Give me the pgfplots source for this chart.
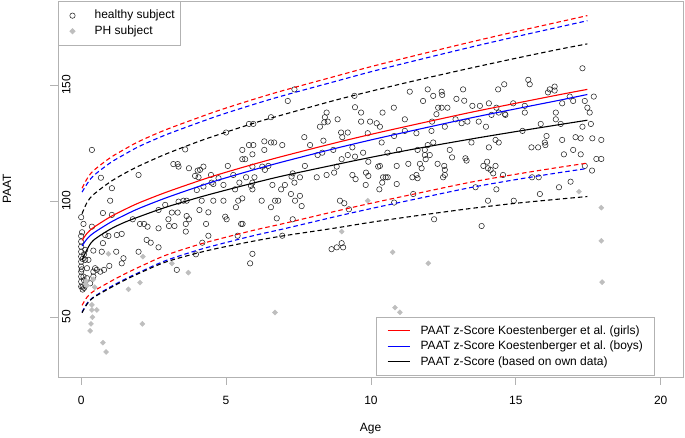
\documentclass[border=0pt]{standalone}
\usepackage{fontspec}
\setmainfont{Liberation Sans}
\usepackage{pgfplots}
\usepackage{pgfplotstable}
\pgfplotsset{compat=1.18}
\definecolor{framegray}{gray}{0.70}
\definecolor{phgray}{RGB}{190,190,190}

\pgfplotstableread{
x rs bs ks ru bu ku rl bl kl
0.03 83.0 80.6 74.5 105.5 103.8 94.5 55.0 52.0 51.8
0.2 86.0 83.6 79.0 109.5 107.3 99.3 58.5 55.8 55.5
0.42 88.5 86.1 83.0 113.0 110.8 102.7 61.0 58.5 58.3
1 93.1 90.7 87.8 118.6 116.4 108.2 65.2 62.9 62.5
1.5 96.3 93.9 90.8 122.3 120.1 111.9 68.5 66.2 65.8
2 99.2 96.8 93.2 125.7 123.5 115.1 71.5 69.2 68.8
2.9 103.6 101.2 97.2 130.6 128.4 120.1 76.5 74.2 73.6
4 108.4 106.0 101.3 135.7 133.5 125.4 81.0 78.7 77.5
4.79 111.6 109.2 104.0 139.2 137.0 128.8 83.7 81.4 79.8
6 116.0 113.6 107.9 144.0 141.8 133.7 87.5 85.2 82.8
7 119.4 117.0 110.9 147.7 145.5 137.3 90.3 88.0 85.0
8.76 125.0 122.6 115.6 153.7 151.5 143.4 95.5 93.2 88.3
10 128.7 126.3 118.8 157.9 155.7 147.3 99.0 96.7 90.8
11.5 132.9 130.5 122.4 162.6 160.4 151.8 103.0 100.7 93.5
13.41 138.1 135.7 126.6 168.4 166.2 157.2 108.0 105.7 96.7
15 142.1 139.7 129.9 173.0 170.8 161.5 111.5 109.2 99.0
16.5 145.8 143.4 132.9 177.2 175.0 165.4 114.5 112.2 100.8
17.47 148.1 145.9 134.8 179.9 177.7 167.7 116.3 114.0 101.9
}\curves

\pgfplotstableread{
x y
0.37 122.0
0.68 110.0
1.98 111.2
1.06 105.5
1.00 100.1
0.00 93.0
0.08 90.1
0.75 94.8
1.06 94.0
0.37 88.9
1.78 92.1
2.03 90.1
2.17 90.1
2.29 88.9
2.67 88.2
0.83 85.3
0.94 84.9
1.23 85.3
1.40 85.8
0.00 84.9
2.26 83.2
2.40 82.0
2.67 80.0
0.00 82.5
0.00 80.3
0.00 78.1
0.00 76.0
0.00 73.8
0.00 71.7
0.00 69.5
0.00 67.4
0.00 65.2
0.00 63.1
0.14 78.9
0.14 74.6
0.42 78.6
0.75 81.8
0.71 78.1
1.21 78.1
1.46 75.3
1.40 73.1
1.98 78.1
0.97 72.0
0.20 71.0
0.42 69.5
0.54 70.3
0.66 69.5
0.79 70.3
0.08 67.4
0.20 66.7
0.42 67.4
0.31 64.5
0.05 63.0
2.67 96.1
0.05 61.8
0.10 62.5
0.02 70.5
0.05 75.0
0.10 77.0
0.10 65.8
0.15 63.6
0.03 86.5
0.25 74.6
0.48 71.0
7.36 148.1
7.13 143.1
8.47 138.1
8.41 136.1
8.39 133.9
8.24 132.0
6.55 136.1
5.79 133.2
5.94 133.2
5.00 129.5
3.59 122.2
7.70 127.5
6.32 125.7
6.55 125.2
6.66 125.2
6.94 124.1
5.79 124.1
5.94 124.1
5.56 122.0
6.32 122.0
5.91 120.1
5.56 118.0
5.66 118.0
7.90 124.1
8.36 126.0
8.16 119.8
8.32 120.8
3.18 115.9
3.33 115.9
3.36 114.8
3.72 114.1
4.22 114.8
4.10 113.4
4.02 113.1
5.06 115.1
3.93 110.8
4.05 110.2
4.48 111.2
4.74 109.8
5.25 111.2
5.91 114.8
6.25 114.8
6.46 115.1
6.34 113.4
7.72 115.1
8.73 112.2
8.47 111.2
8.13 110.2
7.26 110.5
7.30 111.9
7.55 110.2
5.69 110.2
5.98 110.2
5.46 107.9
4.91 106.9
4.50 107.9
4.56 107.3
4.22 106.2
5.91 107.9
5.86 106.5
5.91 105.0
6.60 106.9
6.90 105.0
7.03 106.9
7.36 107.9
5.31 105.0
3.99 104.7
7.24 103.0
7.55 102.2
7.61 97.8
7.38 100.1
5.56 101.1
5.42 100.1
4.16 100.1
4.56 100.1
4.91 100.1
3.53 100.1
3.64 100.1
3.36 99.7
6.23 100.1
6.69 100.1
6.80 100.1
6.55 97.3
5.34 97.3
4.08 96.1
4.39 95.1
2.90 98.3
3.13 95.0
3.33 95.0
3.01 92.1
3.64 93.5
3.72 92.1
4.97 93.2
5.02 92.1
6.75 92.5
7.30 92.1
3.03 89.2
3.22 89.2
3.61 90.1
4.31 90.1
5.52 90.1
5.57 90.1
3.61 86.8
4.39 85.0
5.40 85.0
6.94 85.0
4.18 82.0
3.96 77.0
5.91 77.2
8.64 79.2
5.83 73.1
3.30 70.3
8.82 80.0
8.99 81.8
9.04 80.0
11.34 147.1
11.96 148.1
12.44 147.1
12.46 145.7
12.15 145.3
13.18 148.1
12.95 144.0
13.22 143.2
11.80 143.1
9.43 145.3
9.45 140.4
9.66 138.1
10.79 140.2
10.40 138.1
12.32 140.2
12.44 140.2
12.64 140.2
12.26 137.4
13.50 141.0
13.76 141.0
14.07 142.1
8.51 134.2
8.85 135.2
9.66 134.2
9.97 134.2
10.20 133.5
10.31 132.0
11.17 135.2
12.11 134.2
12.92 135.2
13.13 133.5
13.33 134.2
13.72 134.2
13.97 132.0
14.16 137.1
12.55 132.0
8.97 129.5
9.01 127.5
9.20 129.5
9.89 129.2
10.80 128.0
11.17 130.2
11.57 129.2
12.09 130.2
8.70 122.0
9.36 123.1
10.37 125.2
12.15 125.2
11.96 124.1
13.47 125.2
14.07 123.1
10.97 122.0
11.61 122.0
11.86 122.0
12.72 122.0
10.57 120.8
9.20 119.8
9.45 119.1
8.99 118.0
9.73 120.8
11.86 119.8
12.03 119.8
11.89 118.0
12.80 118.8
13.26 118.4
13.30 117.4
9.91 116.9
8.82 114.8
10.25 114.8
10.31 115.1
10.89 115.1
11.29 116.0
11.69 116.0
11.75 114.1
12.30 116.0
12.53 115.1
12.55 113.4
13.88 115.1
14.01 116.9
14.04 114.1
14.13 113.4
9.36 111.2
9.47 109.4
9.83 112.2
9.91 110.8
10.42 110.2
10.51 110.2
10.58 110.2
10.39 107.9
10.29 105.0
9.82 106.9
10.89 107.3
11.43 110.2
11.57 111.2
11.61 109.8
12.49 110.2
12.55 111.2
11.46 103.0
10.80 99.3
13.61 105.9
8.93 100.1
9.08 99.0
9.24 96.4
12.18 92.1
13.82 89.2
14.04 100.1
17.30 157.2
15.43 152.2
15.48 150.3
14.60 150.3
14.39 148.1
16.17 148.1
16.11 146.8
16.34 149.3
16.34 147.6
17.69 145.0
16.86 145.0
16.98 143.1
16.60 142.1
17.38 143.1
17.47 140.2
17.55 138.1
14.91 142.1
14.33 140.2
15.31 141.0
14.41 138.1
14.62 137.5
14.64 137.1
15.31 138.1
16.38 138.1
16.38 135.2
16.55 133.2
15.86 133.2
17.59 133.2
17.30 132.0
15.23 130.2
16.06 128.0
14.30 126.3
14.41 125.2
16.60 126.3
17.06 127.5
17.24 127.0
17.64 127.0
17.95 126.3
16.00 125.2
16.02 124.1
15.54 123.1
15.77 123.1
16.98 122.0
16.66 120.1
17.24 120.1
17.78 118.1
17.95 118.1
14.30 115.1
14.22 111.9
14.56 111.2
17.38 115.1
17.63 113.1
15.56 110.2
15.79 110.2
16.89 108.3
16.49 105.9
14.33 105.0
15.83 103.0
14.93 100.1
}\healthy

\pgfplotstableread{
x y
0.94 77.2
2.13 76.0
0.14 64.2
0.20 63.5
0.17 65.5
0.42 66.2
0.47 62.8
1.63 61.9
2.03 64.8
0.37 55.2
0.37 53.0
0.54 53.0
0.39 49.9
0.34 47.0
0.31 44.0
2.11 47.0
0.75 38.9
0.86 34.9
3.13 73.1
3.70 69.1
6.69 51.9
8.99 86.8
10.75 77.9
11.98 73.1
10.83 54.0
11.00 52.0
9.89 100.1
17.18 104.0
17.95 97.1
17.95 82.8
17.98 65.0
}\ph

\pgfplotsset{
  common/.style={at={(0,0)}, anchor=south west, scale only axis,
    width=625bp, height=376bp, xmin=-0.8, xmax=20.77, ymin=24.1, ymax=186.2},
  legfont/.style={font=\fontsize{12bp}{14bp}\selectfont},
  markleg/.style={legend image code/.code={\path (0bp,0bp) (29.4bp,0bp); \draw[##1] plot coordinates {(8.7bp,0bp)};}},
  limage/.style={legend image code/.code={\path (0bp,0bp) (31.7bp,0bp); \draw[##1] (0.3bp,0bp) -- (22.6bp,0bp);}},
  dashedstyle/.style={dash pattern=on 4.5bp off 3bp, forget plot},
}

\begin{document}
\begin{tikzpicture}
\begin{axis}[common,
  axis line style={draw=framegray, line width=0.8bp},
  tick align=outside, major tick length=7.7bp,
  every tick/.style={draw=framegray, line width=0.8bp},
  xtick pos=left, ytick pos=left,
  xtick={0,5,10,15,20}, ytick={50,100,150},
  tick label style={font=\fontsize{12bp}{14bp}\selectfont, inner sep=0bp},
  /pgf/number format/assume math mode=true,
  xticklabel style={anchor=north},
  xticklabel shift=11bp,
  yticklabel style={rotate=90, anchor=south},
  yticklabel shift=-20.4bp,
  xlabel={Age}, ylabel={PAAT},
  label style={font=\fontsize{12bp}{14bp}\selectfont},
  xlabel style={at={(axis description cs:0.5,-0.137)}, anchor=center},
  ylabel style={at={(axis description cs:-0.0816,0.5)}, anchor=center},
  legend style={at={(axis description cs:0,1)}, anchor=north west,
    draw=framegray, line width=0.8bp, fill=white, inner xsep=5bp, inner ysep=6.5bp,
    legfont, nodes={inner sep=1bp, text height=10bp, text depth=3.5bp}, row sep=0bp},
  legend cell align=left,
]
\addplot[only marks, mark=o, mark size=2.7bp, color=black!85,
  mark options={line width=0.55bp}, markleg]
  table[x=x,y=y] {\healthy};
\addplot[only marks, mark=square*, mark size=1.8bp, color=phgray,
  mark options={rotate=45}, markleg]
  table[x=x,y=y] {\ph};
\legend{healthy subject, PH subject}
\end{axis}

\begin{axis}[common, hide axis,
  legend style={at={(axis description cs:0.9552,0.0027)}, anchor=south east,
    draw=framegray, line width=0.8bp, fill=white, inner xsep=10bp, inner ysep=6bp,
    legfont, nodes={inner sep=1bp, text height=10bp, text depth=3.5bp}, row sep=0bp},
  legend cell align=left,
  every axis plot/.append style={no marks, line width=1.1bp, smooth},
]
\addplot[red, limage] table[x=x,y=rs] {\curves};
\addplot[blue, limage] table[x=x,y=bs] {\curves};
\addplot[black, limage] table[x=x,y=ks] {\curves};
\addplot[red, dashedstyle] table[x=x,y=ru] {\curves};
\addplot[blue, dashedstyle] table[x=x,y=bu] {\curves};
\addplot[black, dashedstyle] table[x=x,y=ku] {\curves};
\addplot[red, dashedstyle] table[x=x,y=rl] {\curves};
\addplot[blue, dashedstyle] table[x=x,y=bl] {\curves};
\addplot[black, dashedstyle] table[x=x,y=kl] {\curves};
\legend{PAAT z-Score Koestenberger et al.\ (girls)\hspace*{4bp}, PAAT z-Score Koestenberger et al.\ (boys), PAAT z-Score (based on own data)}
\end{axis}
\pgfresetboundingbox
\path (-58bp,-61bp) rectangle (627bp,377bp);
\end{tikzpicture}
\end{document}
